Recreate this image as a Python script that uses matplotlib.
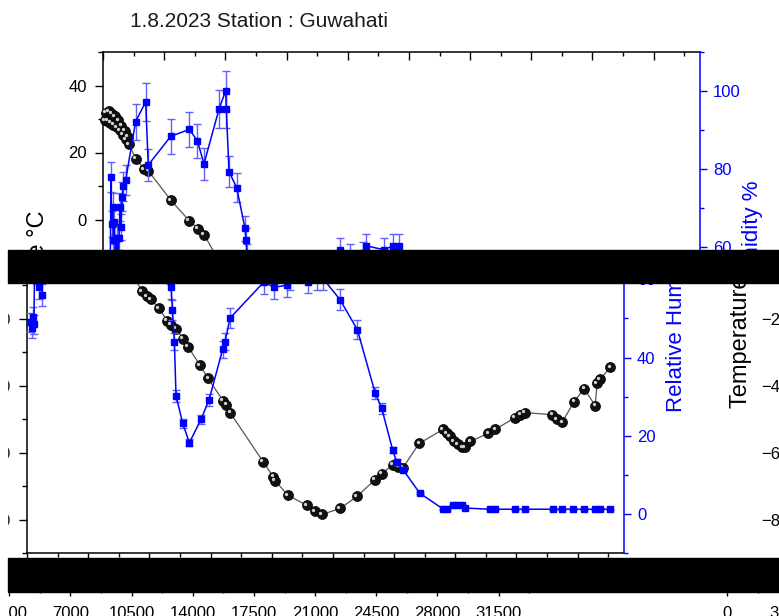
import numpy as np
import matplotlib
matplotlib.use("Agg")
import matplotlib.pyplot as plt
from matplotlib.patches import Rectangle
from matplotlib.ticker import MultipleLocator
from matplotlib.transforms import Bbox, TransformedBbox, offset_copy

plt.rcParams['font.family'] = ['Liberation Sans', 'DejaVu Sans']

W, H, DPI = 779, 616, 100

# radiosonde temperature profile: height (m) / temperature (deg C)
alt_t = [90, 170, 250, 330, 420, 510, 600, 690, 780, 870, 960, 1050, 1140, 1230, 1320, 1410, 1460,
         1890, 2350, 2580, 3890, 4920, 5430, 5780, 6580, 6860, 7090, 7550, 8010, 8240, 8520,
         8920, 9210, 9900, 10360, 11210, 11390, 11620, 13500, 14080, 14190, 14930, 16020,
         16480, 16880, 17910, 18880, 19910, 20310, 20910, 21230, 21510, 22430, 23800, 24030,
         24200, 24430, 24660, 24890, 25060, 25350, 26380, 26780, 27920, 28210, 28490, 30040,
         30320, 30610, 31300, 31870, 32500, 32610, 32780, 33360]
temp = [29.6, 31.9, 29.4, 32.3, 28.9, 31.6, 28.3, 30.8, 27.5, 29.6, 26.6, 28.0, 25.3, 26.4, 23.9, 24.6, 22.4,
        18.2, 15.0, 14.6, 5.7, -0.3, -2.7, -4.5, -11.9, -13.4, -14.3, -17.0, -20.6, -21.8, -23.0,
        -26.0, -28.4, -34.0, -37.9, -44.5, -45.7, -48.1, -62.7, -67.2, -68.4, -72.8, -75.8,
        -77.6, -78.5, -76.7, -73.1, -68.1, -66.3, -63.7, -64.2, -64.5, -57.3, -53.1, -54.3,
        -55.2, -56.7, -57.6, -58.5, -58.5, -56.7, -54.3, -53.1, -49.6, -48.7, -48.1, -48.7,
        -50.1, -51.0, -44.8, -40.9, -46.0, -39.4, -38.2, -34.6]

# relative humidity (%) with its uncertainty
alt_rh = [200, 260, 320, 400, 458, 500, 555, 600, 647, 700, 780, 850, 915, 970, 1030, 1090, 1170, 1300,
          1865, 2440, 2590, 3870, 4935, 5395, 5778, 6637, 7017, 7055, 7207, 7647, 8123, 8180, 8240,
          8316, 8430, 8525, 8907, 9287, 9955, 10413, 11195, 11329, 11615, 13540, 14136, 14870,
          15057, 16080, 16584, 16904, 17909, 18901, 19912, 20293, 20920, 21150, 21514, 22468,
          23820, 24000, 24393, 24600, 24900, 25060, 26491, 26777, 27921, 28493, 30099, 30580,
          31249, 31868, 32497, 32784, 33356]
rh = [49.0, 47.5, 50.5, 48.5, 78.0, 66.0, 70.3, 62.0, 66.6, 58.0, 62.4, 56.0, 62.4, 70.3, 65.3, 73.0, 75.6, 77.3,
      92.2, 97.2, 81.1, 88.4, 90.2, 87.3, 81.4, 95.4, 100.1, 95.4, 79.4, 75.3, 64.9, 61.9, 58.0,
      52.2, 44.1, 30.2, 23.2, 18.2, 24.2, 29.2, 42.1, 44.1, 50.1, 59.3, 58.0, 58.5,
      60.4, 59.4, 60.4, 60.4, 54.8, 47.1, 31.0, 27.0, 16.3, 13.3, 11.3, 5.3,
      1.2, 1.2, 2.3, 2.4, 2.3, 1.5, 1.2, 1.2, 1.2, 1.2, 1.2, 1.2,
      1.2, 1.2, 1.2, 1.2, 1.2]
rh_err = [2.5, 2.4, 2.5, 2.4, 3.9, 3.3, 3.5, 3.1, 3.3, 2.9, 3.1, 2.8, 3.1, 3.5, 3.3, 3.7, 3.8, 3.9,
          4.6, 4.9, 4.1, 4.4, 4.5, 4.4, 4.1, 4.8, 5.0, 4.8, 4.0, 3.8, 3.2, 3.1, 2.9,
          2.6, 2.2, 1.5, 1.2, 0.9, 1.2, 1.5, 2.1, 2.2, 2.5, 3.0, 2.9, 2.9,
          3.0, 3.0, 3.0, 3.0, 2.7, 2.4, 1.6, 1.4, 0.8, 0.7, 0.6, 0.3,
          0.1, 0.1, 0.1, 0.1, 0.1, 0.1, 0.1, 0.1, 0.1, 0.1, 0.1, 0.1,
          0.1, 0.1, 0.1, 0.1, 0.1]

x_ticks = [0, 3500, 7000, 10500, 14000, 17500, 21000, 24500, 28000, 31500]
temp_ticks = [-80, -60, -40, -20, 0, 20, 40]
rh_ticks = [0, 20, 40, 60, 80, 100]

title = "1.8.2023 Station : Guwahati"

BLUE = '#0000ff'
FRAME = (103, 52, 700, 521)          # plot frame in px: left, top, right, bottom

# horizontal strips of the page: (shift x, shift y, first row, last row)
STRIPS = [(0, 0, 0, 251),
          (-76, 32, 282, 559), (703, 32, 282, 559),
          (-155, 68, 591, 616), (624, 68, 591, 616)]
BARS = [(8, 250, 779, 283), (8, 558, 779, 592)]
MARGIN = (0, 250, 7, 616)            # blank column left of the lower strips

fig = plt.figure(figsize=(W / DPI, H / DPI), dpi=DPI, facecolor='white')


def row_clip(top, bottom):
    box = Bbox([[0, 1 - bottom / H], [1, 1 - top / H]])
    return TransformedBbox(box, fig.transFigure)


def draw_profile(dx, dy):
    left, top, right, bottom = FRAME
    ax = fig.add_axes([(left + dx) / W, 1 - (bottom + dy) / H,
                       (right - left) / W, (bottom - top) / H])
    ax.set_facecolor('none')
    ax2 = ax.twinx()

    # temperature: dark balls joined by a thin grey line
    ax.plot(alt_t, temp, '-', color='#555555', lw=0.9, zorder=2)
    ax.plot(alt_t, temp, 'o', ms=7.2, mfc='#111111', mec='#000000', mew=0.5, zorder=3)
    shine = offset_copy(ax.transData, fig=fig, x=-1.6, y=1.6, units='dots')
    ax.plot(alt_t, temp, 'o', ms=2.4, mfc='#d0d0d0', mec='none', transform=shine, zorder=4)

    ax2.errorbar(alt_rh, rh, yerr=rh_err, fmt='-s', color=BLUE, ms=3.8, lw=1.1,
                 ecolor='#6060ff', elinewidth=1, capsize=3.2, capthick=1)

    ax.set_xlim(0, 34150)
    ax.set_ylim(-90, 50)
    ax2.set_ylim(-10, 110)
    ax.set_xticks(x_ticks)
    ax.xaxis.set_minor_locator(MultipleLocator(1750))
    ax.set_yticks(temp_ticks)
    ax.yaxis.set_minor_locator(MultipleLocator(10))
    ax2.set_yticks(rh_ticks)
    ax2.yaxis.set_minor_locator(MultipleLocator(10))

    ax.tick_params(axis='x', which='both', bottom=True, top=False, direction='out',
                   width=1, labelsize=12, pad=7)
    ax.tick_params(axis='x', which='major', length=5)
    ax.tick_params(axis='x', which='minor', length=2.9)
    ax2.xaxis.set_visible(True)
    ax2.tick_params(axis='x', which='both', bottom=False, top=True, labelbottom=False,
                    labeltop=False, direction='in', width=1)
    ax2.tick_params(axis='x', which='major', length=5.8)
    ax2.tick_params(axis='x', which='minor', length=2.9)

    ax.tick_params(axis='y', which='both', left=True, right=False, direction='out',
                   width=1, labelsize=12, pad=5.8)
    ax.tick_params(axis='y', which='major', length=5.8)
    ax.tick_params(axis='y', which='minor', length=3.6)
    ax2.tick_params(axis='y', which='both', right=True, left=False, direction='out',
                    width=1, labelsize=12, pad=4.3, color=BLUE, labelcolor=BLUE)
    ax2.tick_params(axis='y', which='major', length=5)
    ax2.tick_params(axis='y', which='minor', length=3)

    ax.spines['right'].set_visible(False)
    for side in ('left', 'top', 'bottom'):
        ax.spines[side].set_linewidth(1.1)
        ax2.spines[side].set_visible(False)
    ax2.spines['right'].set_color(BLUE)
    ax2.spines['right'].set_linewidth(1.1)

    ax.set_ylabel('Temperature °C', fontsize=17)
    ax.yaxis.set_label_coords(-65 / 597, 0.486)
    ax.yaxis.label.set_va('center')
    ax2.set_ylabel('Relative Humidity %', fontsize=16, color=BLUE)
    ax2.yaxis.set_label_coords(650 / 597, 0.513)
    ax2.yaxis.label.set_va('center')
    return ax, ax2


for dx, dy, top, bottom in STRIPS:
    clip = row_clip(top, bottom)
    for a in draw_profile(dx, dy):
        for art in a.findobj():
            art.set_clip_box(clip)
            art.set_clip_on(True)

fig.text(130 / W, 1 - 27 / H, title, ha='left', va='baseline', fontsize=15, color='#1a1a1a')

x0, y0, x1, y1 = MARGIN
fig.add_artist(Rectangle((x0 / W, 1 - y1 / H), (x1 - x0) / W, (y1 - y0) / H,
                         transform=fig.transFigure, color='white', zorder=9))
for x0, y0, x1, y1 in BARS:
    fig.add_artist(Rectangle((x0 / W, 1 - y1 / H), (x1 - x0) / W, (y1 - y0) / H,
                             transform=fig.transFigure, color='black', zorder=10))

fig.savefig('out.png', dpi=DPI, facecolor='white')
